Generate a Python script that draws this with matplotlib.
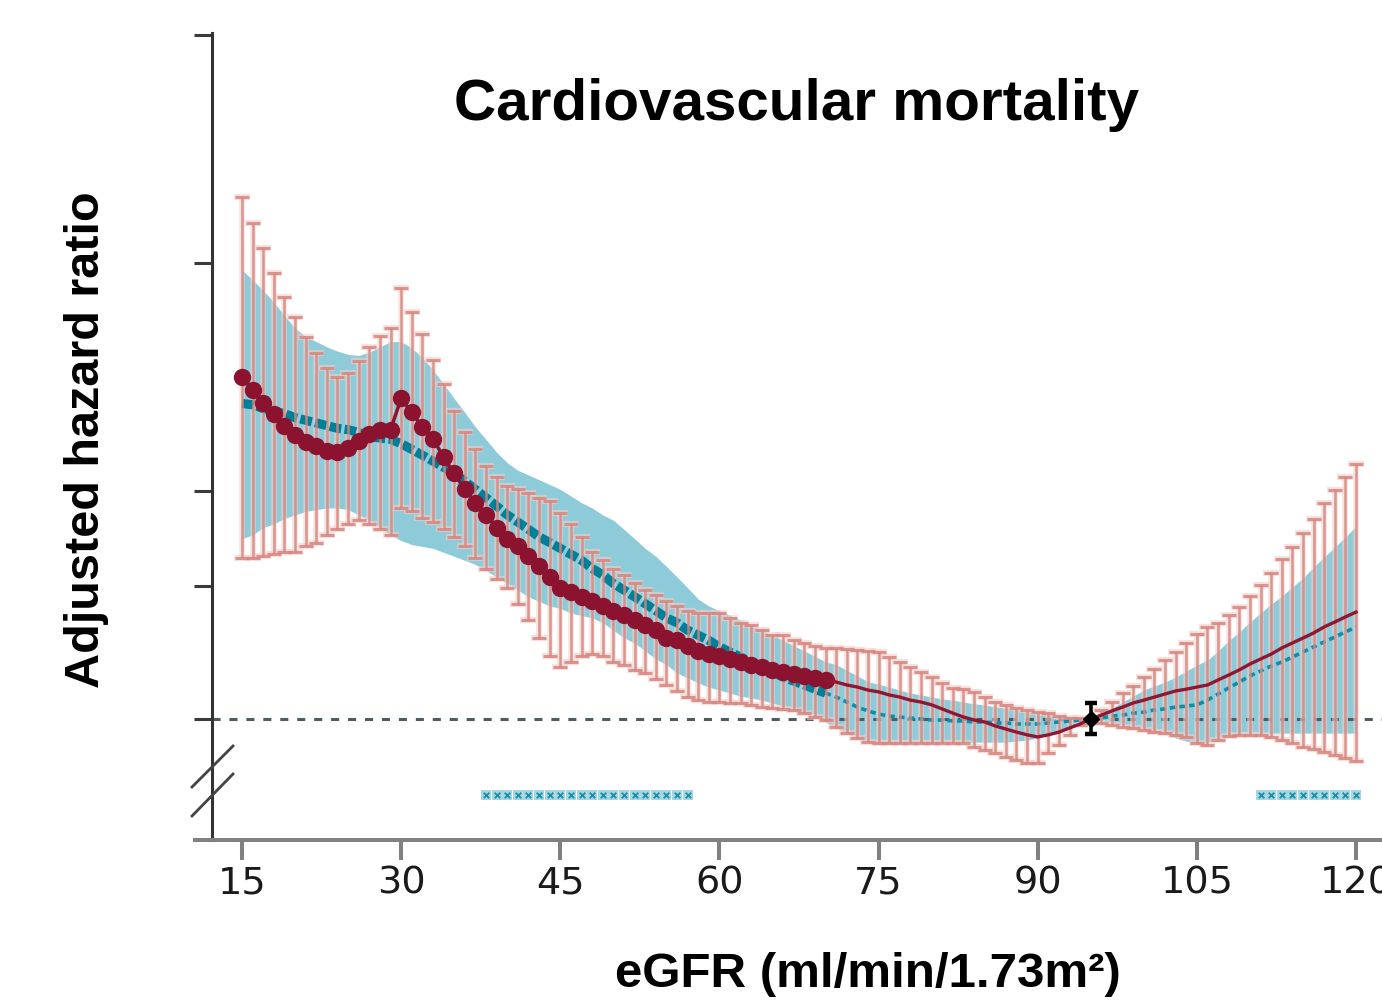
import matplotlib
matplotlib.use("Agg")
import matplotlib.pyplot as plt
from matplotlib.lines import Line2D
from matplotlib.ticker import NullLocator, NullFormatter
import numpy as np

plt.rcParams['lines.scale_dashes'] = False

# eGFR grid, one value per unit
egfr = np.arange(15, 121)

# red series: hazard ratio with 95% CI
red_pt = [2.83, 2.72, 2.61, 2.53, 2.44, 2.37, 2.32, 2.29, 2.26, 2.25,
          2.28, 2.33, 2.38, 2.41, 2.41, 2.65, 2.54, 2.43, 2.34, 2.22,
          2.11, 2.01, 1.93, 1.86, 1.79, 1.73, 1.69, 1.64, 1.59, 1.54,
          1.49, 1.47, 1.45, 1.43, 1.41, 1.39, 1.37, 1.35, 1.33, 1.31,
          1.28, 1.27, 1.25, 1.23, 1.22, 1.21, 1.20, 1.19, 1.18, 1.17,
          1.161, 1.154, 1.147, 1.140, 1.133, 1.126, 1.119, 1.109, 1.102, 1.092,
          1.086, 1.076, 1.069, 1.059, 1.053, 1.044, 1.031, 1.018, 1.006, 0.997,
          0.991, 0.979, 0.970, 0.961, 0.953, 0.947, 0.953, 0.961, 0.973, 0.985,
          1.000, 1.012, 1.025, 1.037, 1.050, 1.059, 1.069, 1.079, 1.089, 1.095,
          1.102, 1.109, 1.126, 1.143, 1.161, 1.182, 1.200, 1.218, 1.241, 1.260,
          1.279, 1.299, 1.323, 1.343, 1.364, 1.384]
red_hi = [4.89, 4.52, 4.19, 3.88, 3.61, 3.39, 3.19, 3.04, 2.91, 2.83,
          2.86, 2.97, 3.10, 3.20, 3.28, 3.71, 3.45, 3.22, 2.98, 2.77,
          2.55, 2.39, 2.27, 2.16, 2.09, 2.03, 2.01, 1.99, 1.96, 1.94,
          1.87, 1.81, 1.74, 1.66, 1.62, 1.58, 1.55, 1.51, 1.48, 1.46,
          1.43, 1.41, 1.39, 1.38, 1.38, 1.38, 1.36, 1.34, 1.33, 1.31,
          1.29, 1.29, 1.27, 1.26, 1.25, 1.24, 1.241, 1.237, 1.233, 1.230,
          1.226, 1.207, 1.189, 1.171, 1.154, 1.136, 1.116, 1.099, 1.095, 1.086,
          1.069, 1.053, 1.044, 1.034, 1.028, 1.021, 1.018, 1.009, 1.003, 1.002,
          1.000, 1.028, 1.053, 1.082, 1.106, 1.136, 1.164, 1.196, 1.226, 1.260,
          1.295, 1.323, 1.339, 1.372, 1.406, 1.453, 1.503, 1.559, 1.626, 1.687,
          1.760, 1.837, 1.928, 2.006, 2.087, 2.171]
red_lo = [1.63, 1.63, 1.64, 1.65, 1.66, 1.66, 1.69, 1.71, 1.75, 1.78,
          1.81, 1.83, 1.81, 1.78, 1.75, 1.90, 1.88, 1.84, 1.82, 1.78,
          1.74, 1.69, 1.63, 1.58, 1.53, 1.49, 1.42, 1.35, 1.28, 1.21,
          1.17, 1.19, 1.21, 1.22, 1.21, 1.19, 1.18, 1.16, 1.15, 1.13,
          1.11, 1.09, 1.07, 1.06, 1.053, 1.053, 1.050, 1.050, 1.044, 1.037,
          1.034, 1.031, 1.028, 1.018, 1.006, 0.997, 0.976, 0.958, 0.944, 0.932,
          0.930, 0.930, 0.930, 0.930, 0.930, 0.930, 0.930, 0.930, 0.930, 0.918,
          0.910, 0.902, 0.891, 0.883, 0.875, 0.875, 0.902, 0.924, 0.953, 0.982,
          1.000, 0.988, 0.982, 0.976, 0.973, 0.967, 0.961, 0.958, 0.953, 0.947,
          0.930, 0.924, 0.938, 0.950, 0.953, 0.953, 0.953, 0.947, 0.938, 0.930,
          0.918, 0.913, 0.905, 0.897, 0.888, 0.880]

# cyan series: hazard ratio with 95% band
cyan_pt = [2.61, 2.60, 2.57, 2.55, 2.53, 2.50, 2.48, 2.46, 2.44, 2.42,
           2.41, 2.39, 2.36, 2.35, 2.34, 2.31, 2.27, 2.23, 2.19, 2.15,
           2.11, 2.06, 2.01, 1.96, 1.91, 1.86, 1.82, 1.78, 1.74, 1.71,
           1.68, 1.65, 1.62, 1.58, 1.55, 1.51, 1.48, 1.45, 1.42, 1.39,
           1.36, 1.34, 1.31, 1.29, 1.27, 1.245, 1.226, 1.207, 1.189, 1.171,
           1.154, 1.136, 1.122, 1.109, 1.095, 1.082, 1.069, 1.053, 1.037, 1.025,
           1.015, 1.009, 1.006, 1.003, 1.000, 0.997, 0.997, 0.994, 0.994, 0.991,
           0.991, 0.988, 0.988, 0.985, 0.985, 0.985, 0.988, 0.991, 0.994, 0.997,
           1.000, 1.003, 1.009, 1.012, 1.018, 1.021, 1.028, 1.031, 1.037, 1.040,
           1.044, 1.059, 1.079, 1.099, 1.119, 1.140, 1.157, 1.175, 1.189, 1.207,
           1.226, 1.245, 1.264, 1.283, 1.303, 1.323]
cyan_hi = [3.92, 3.80, 3.68, 3.55, 3.41, 3.28, 3.20, 3.15, 3.10, 3.06,
           3.03, 3.02, 3.05, 3.10, 3.15, 3.15, 3.09, 3.00, 2.89, 2.77,
           2.65, 2.54, 2.43, 2.34, 2.25, 2.18, 2.13, 2.10, 2.07, 2.04,
           2.01, 1.97, 1.93, 1.90, 1.86, 1.83, 1.78, 1.73, 1.68, 1.64,
           1.59, 1.54, 1.49, 1.44, 1.41, 1.39, 1.37, 1.35, 1.33, 1.31,
           1.29, 1.27, 1.25, 1.23, 1.21, 1.19, 1.18, 1.16, 1.14, 1.12,
           1.112, 1.102, 1.092, 1.082, 1.076, 1.069, 1.063, 1.059, 1.053, 1.047,
           1.044, 1.037, 1.034, 1.028, 1.025, 1.021, 1.018, 1.012, 1.009, 1.003,
           1.000, 1.015, 1.034, 1.053, 1.072, 1.092, 1.106, 1.119, 1.136, 1.157,
           1.178, 1.196, 1.230, 1.268, 1.303, 1.343, 1.380, 1.418, 1.453, 1.494,
           1.535, 1.587, 1.636, 1.687, 1.739, 1.798]
cyan_lo = [1.73, 1.75, 1.79, 1.81, 1.84, 1.86, 1.88, 1.89, 1.90, 1.90,
           1.89, 1.86, 1.83, 1.79, 1.75, 1.72, 1.70, 1.69, 1.68, 1.66,
           1.64, 1.62, 1.60, 1.57, 1.54, 1.51, 1.48, 1.45, 1.43, 1.41,
           1.40, 1.38, 1.37, 1.36, 1.34, 1.31, 1.28, 1.26, 1.23, 1.20,
           1.18, 1.15, 1.133, 1.116, 1.102, 1.092, 1.082, 1.072, 1.066, 1.059,
           1.050, 1.040, 1.031, 1.018, 1.006, 0.991, 0.973, 0.958, 0.944, 0.932,
           0.930, 0.930, 0.930, 0.930, 0.930, 0.930, 0.932, 0.932, 0.932, 0.932,
           0.932, 0.932, 0.932, 0.935, 0.938, 0.944, 0.953, 0.964, 0.976, 0.988,
           1.000, 0.994, 0.988, 0.982, 0.976, 0.970, 0.964, 0.955, 0.944, 0.935,
           0.930, 0.932, 0.941, 0.950, 0.955, 0.958, 0.958, 0.958, 0.958, 0.958,
           0.958, 0.958, 0.958, 0.958, 0.958, 0.958]

# eGFR values flagged as significant (row of markers under the curves)
sig_left = [38, 39, 40, 41, 42, 43, 44, 45, 46, 47,
            48, 49, 50, 51, 52, 53, 54, 55, 56, 57]
sig_right = [111, 112, 113, 114, 115, 116, 117, 118, 119, 120]
sig_level = 0.794

ref_egfr = 95
ref_hr = 1.0
xticks = [15, 30, 45, 60, 75, 90, 105, 120]
yticks = [1, 1.5, 2, 4, 8]

red_pt = np.array(red_pt)
red_hi = np.array(red_hi)
red_lo = np.array(red_lo)
cyan_pt = np.array(cyan_pt)

W, H = 1382, 1005
fig = plt.figure(figsize=(W / 100, H / 100), dpi=100)
fig.patch.set_facecolor('white')

ax = fig.add_axes([195 / W, (H - 840) / H, (W - 195) / W, 807 / H])
ax.set_yscale('log', base=2)
ax.set_xlim(10.57, 122.45)
ax.set_ylim(2 ** -0.5307, 2 ** 3.009)

# cyan CI band and estimate
ax.fill_between(egfr, cyan_lo, cyan_hi, color='#8ecbd8', lw=0, zorder=1)
thick = egfr <= 70
thin = egfr >= 70
ax.plot(egfr[thick], cyan_pt[thick], color='#007f98', lw=6.6,
        dashes=(8.5, 2.4), dash_capstyle='butt', zorder=3.05)
ax.plot(egfr[thin], cyan_pt[thin], color='#128ca7', lw=2.6,
        dashes=(4.0, 3.0), zorder=3.05)

# reference line HR = 1
ax.plot([12.17, 122.45], [1, 1], color='#4b5c62', lw=2.2,
        dashes=(5.8, 6.4), zorder=1.5, clip_on=False)

# red error bars (soft halo then bar)
m = egfr != ref_egfr
yerr = [red_pt[m] - red_lo[m], red_hi[m] - red_pt[m]]
ax.errorbar(egfr[m], red_pt[m], yerr=yerr, fmt='none', ecolor='#f2cfcb',
            elinewidth=4.0, capsize=6, capthick=4.5, alpha=0.6, zorder=3)
ax.errorbar(egfr[m], red_pt[m], yerr=yerr, fmt='none', ecolor='#d6867f',
            elinewidth=1.8, capsize=5, capthick=2.2, alpha=0.85, zorder=3.1)

# red estimate: markers up to 70, thin line afterwards
ax.plot(egfr[thick], red_pt[thick], color='#8b1330', lw=2.5, marker='o',
        ms=12.5, mec='none', zorder=4)
ax.plot(egfr[thin], red_pt[thin], color='#8e1834', lw=2.4, zorder=4)

# reference point
ax.errorbar([ref_egfr], [ref_hr], yerr=[[0.045], [0.05]], fmt='D', color='black',
            ms=8, elinewidth=2.6, capsize=4.5, capthick=3.2, zorder=5)

# significance markers
for xs in (sig_left, sig_right):
    ax.scatter(xs, [sig_level] * len(xs), marker='s', s=48, color='#a5d6e1',
               lw=0, zorder=3, clip_on=False)
    ax.scatter(xs, [sig_level] * len(xs), marker='x', s=16, color='#1b8ea7',
               lw=1.3, zorder=3.2, clip_on=False)

# spines and ticks
ax.spines['top'].set_visible(False)
ax.spines['right'].set_visible(False)
ax.spines['left'].set_position(('data', 12.17))
ax.spines['left'].set_color('#333333')
ax.spines['left'].set_linewidth(2.2)
ax.spines['bottom'].set_color('#808080')
ax.spines['bottom'].set_linewidth(2.9)

ax.set_yticks(yticks)
ax.yaxis.set_minor_locator(NullLocator())
ax.yaxis.set_major_formatter(NullFormatter())
ax.yaxis.set_minor_formatter(NullFormatter())
ax.tick_params(axis='y', direction='out', length=13, width=2.2, color='#3a3a3a')

ax.set_xticks(xticks)
ax.set_xticklabels([str(t) for t in xticks])
ax.tick_params(axis='x', direction='out', length=14.5, width=2.9, color='#808080',
               pad=3.5, labelsize=27.5, labelcolor='#1a1a1a')
for lab in ax.get_xticklabels():
    lab.set_family(['Liberation Sans Narrow', 'DejaVu Sans'])

# axis break marks
for y0, y1 in ((787, 746), (816, 774)):
    fig.add_artist(Line2D([192 / W, 233 / W], [1 - y0 / H, 1 - y1 / H],
                          color='#444444', lw=2.0))

# texts
fig.text(797 / W, 1 - 120 / H, 'Cardiovascular mortality', ha='center',
         va='baseline', fontsize=42, fontweight='bold', family='Liberation Sans')
fig.text(87 / W, 1 - 440 / H, 'Adjusted hazard ratio', ha='center', va='center',
         rotation=90, fontsize=35, fontweight='bold', family='Liberation Sans')
fig.text(868 / W, 1 - 987 / H, 'eGFR (ml/min/1.73m\u00b2)', ha='center',
         va='baseline', fontsize=35.5, fontweight='bold', family='Liberation Sans')

fig.savefig('out.png', dpi=100, facecolor='white')
